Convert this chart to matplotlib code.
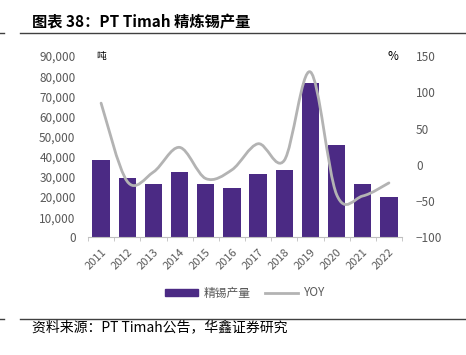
import matplotlib
matplotlib.use("Agg")
import matplotlib.pyplot as plt
from matplotlib.path import Path
from matplotlib.patches import PathPatch
from matplotlib.lines import Line2D
from matplotlib.patches import Patch
from matplotlib.ticker import FuncFormatter

plt.rcParams['font.family'] = ['Noto Sans CJK SC', 'DejaVu Sans']

years = ['2011', '2012', '2013', '2014', '2015', '2016',
         '2017', '2018', '2019', '2020', '2021', '2022']
output = [38400, 29600, 26300, 32400, 26400, 24500,
          31300, 33500, 76600, 45800, 26600, 20000]
yoy = [85, -23, -10, 24, -19, -7, 29, 6, 128, -41, -43, -25]

purple = '#4B2A84'
grey_line = '#B3B3B3'
txt = '#595959'


def smooth_path(xs, ys):
    # catmull-rom style smoothing like office charts
    verts = [(xs[0], ys[0])]
    codes = [Path.MOVETO]
    n = len(xs)
    for i in range(n - 1):
        x0, y0 = (xs[i - 1], ys[i - 1]) if i > 0 else (xs[i], ys[i])
        x1, y1 = xs[i], ys[i]
        x2, y2 = xs[i + 1], ys[i + 1]
        x3, y3 = (xs[i + 2], ys[i + 2]) if i + 2 < n else (x2, y2)
        c1 = (x1 + (x2 - x0) / 6, y1 + (y2 - y0) / 6)
        c2 = (x2 - (x3 - x1) / 6, y2 - (y3 - y1) / 6)
        verts += [c1, c2, (x2, y2)]
        codes += [Path.CURVE4] * 3
    return Path(verts, codes)


fig = plt.figure(figsize=(4.66, 3.55), dpi=100)
ax = fig.add_axes([88 / 466, 1 - 237.3 / 355, 314 / 466, 181.3 / 355])
x = list(range(len(years)))
ax.bar(x, output, width=0.66, color=purple, zorder=2)
ax.set_xlim(-0.5, len(years) - 0.5)
ax.set_ylim(0, 90000)
ax.set_yticks(range(0, 90001, 10000))
ax.yaxis.set_major_formatter(FuncFormatter(lambda v, p: f'{int(v):,}'))
ax.set_xticks(x)
ax.set_xticklabels(years, rotation=45, ha='right', rotation_mode='anchor')
ax.set_xticks([i - 0.5 for i in range(len(years) + 1)], minor=True)
ax.tick_params(axis='x', which='major', length=0, labelsize=8, colors=txt, pad=7)
ax.tick_params(axis='x', which='minor', length=3, color='#BFBFBF')
ax.tick_params(axis='y', length=0, labelsize=8.5, colors=txt, pad=9)
for s in ['top', 'right', 'left']:
    ax.spines[s].set_visible(False)
ax.spines['bottom'].set_color('#BFBFBF')

ax2 = ax.twinx()
ax2.set_ylim(-100, 150)
ax2.set_yticks(range(-100, 151, 50))
ax2.tick_params(axis='y', length=0, labelsize=8.5, colors=txt, pad=10)
for s in ax2.spines.values():
    s.set_visible(False)
ax2.add_patch(PathPatch(smooth_path(x, yoy), facecolor='none',
                        edgecolor=grey_line, lw=2.0, zorder=3,
                        capstyle='round'))

fig.text(96 / 466, 1 - 56 / 355, '吨', fontsize=7, color='black', va='center')
fig.text(387 / 466, 1 - 56 / 355, '%', fontsize=8.5, color='black', va='center')

fig.text(32 / 466, 1 - 22 / 355, '图表 38：PT Timah 精炼锡产量', fontsize=11,
         fontweight='bold', va='center')
for yy in (33, 319):
    fig.add_artist(Line2D([20 / 466, 1], [1 - yy / 355] * 2, color='#404040', lw=1.0))
    fig.add_artist(Line2D([0, 4 / 466], [1 - yy / 355] * 2, color='#404040', lw=1.0))
fig.text(32 / 466, 1 - 327 / 355, '资料来源：PT Timah公告，华鑫证券研究', fontsize=10,
         va='center')

handles = [Patch(color=purple), Line2D([0], [0], color=grey_line, lw=2)]
fig.legend(handles, ['精锡产量', 'YOY'], loc='center', bbox_to_anchor=(245 / 466, 1 - 293 / 355),
           ncol=2, frameon=False, fontsize=8.5, labelcolor=txt,
           handlelength=2.8, handleheight=0.5, columnspacing=1.2, handletextpad=0.5)

fig.savefig('out.png', dpi=100)
